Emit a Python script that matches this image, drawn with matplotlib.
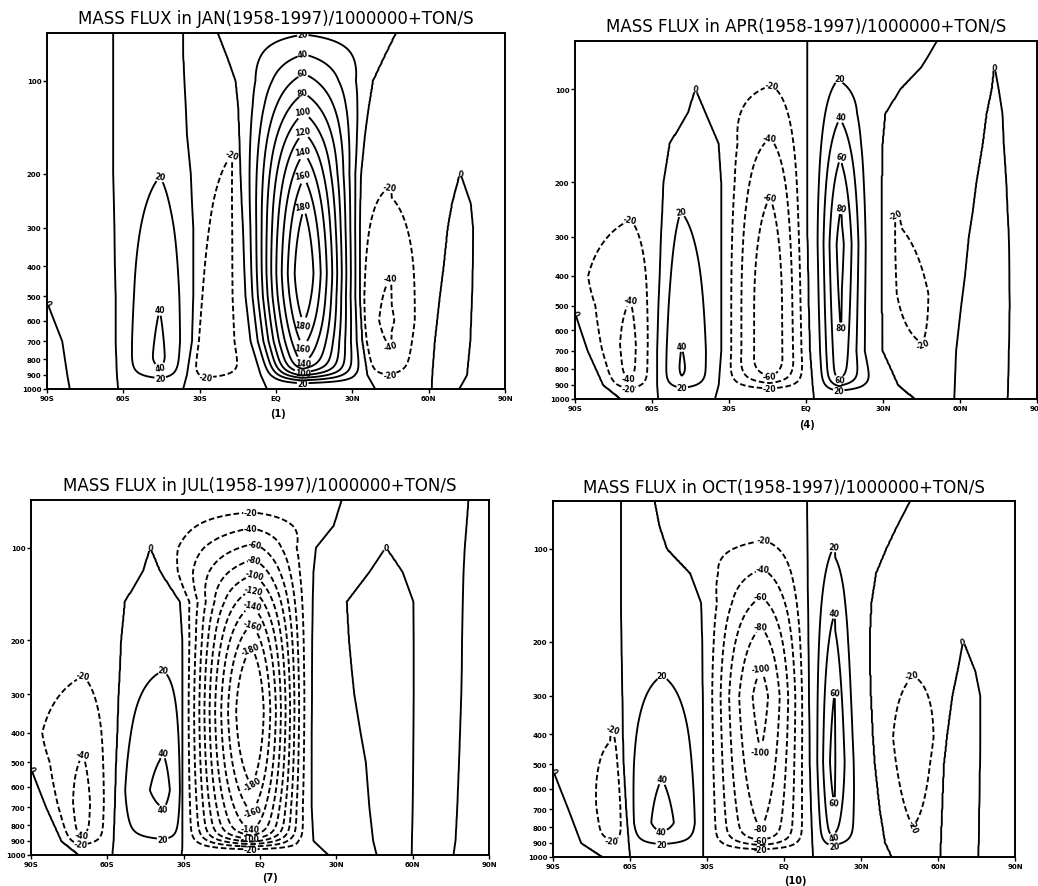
import numpy as np
import matplotlib
matplotlib.use("Agg")
import matplotlib.pyplot as plt
from matplotlib.ticker import NullLocator

plt.rcParams['font.family'] = ['DejaVu Sans']

# Pressure levels (hPa) at which the zero lines of the mass stream function are given
ZERO_LINE_P = [1000, 900, 700, 500, 400, 300, 250, 200, 150, 120, 100, 85, 70]

# Cell rows: amplitude, centre lat, plateau half-width, tilt (deg per log10 p),
# south shape exponent, north shape exponent,
# p where the cell fades at the top, top of plateau, bottom of plateau, p where it fades below
JAN_ZERO_LINES = [
    [-81, -82, -84, -91, -100, -100, -100, -100, -100, -100, -100, -100, -100],
    [-62, -62.5, -63, -63, -63.3, -63.5, -63.7, -64, -64, -64, -64, -64, -64],
    [-36.5, -35, -33, -32.5, -32.5, -32.5, -33, -33.5, -35, -35.5, -36, -36.3, -36.5],
    [-3.5, -6, -10, -12, -12.5, -13, -13.5, -14, -14.5, -15, -16, -19, -23],
    [39, 36, 34, 33, 33, 33, 33.2, 33.5, 35, 36.5, 38, 42, 47],
    [61.3, 61.5, 62.5, 64.5, 66, 67.6, 69.3, 72.4, 72.4, 72.4, 72.4, 72.4, 72.4],
    [72, 75, 76.3, 77, 77.3, 77.4, 76.5, 72.4, 72.4, 72.4, 72.4, 72.4, 72.4],
]
JAN_CELLS = [
    [5, -92, 2, 0, 1, 1, 300, 700, 1000, 1e4],
    [-12, -72, 2, 0, 1, 1, 40, 300, 1000, 1e4],
    [51, -46, 2, 0, 1, 1, 86, 650, 1000, 1e4],
    [-47, -27, 2, 11, 1, 1, 56, 700, 1000, 1e4],
    [225, 10.5, 2.5, 0, 1.2, 1, 61, 265, 600, 1833],
    [-51, 45.5, 2.5, 0, 0.45, 1.5, 119, 548, 631, 1585],
    [16, 69, 1, 0, 1, 1, 150, 500, 1000, 1e4],
    [-6, 92, 2, 0, 1, 1, 30, 300, 1000, 1e4],
]

APR_ZERO_LINES = [
    [-72, -79, -85, -91, -100, -100, -100, -100, -100, -100, -100, -100, -100],
    [-57.6, -58, -58, -57.5, -57, -56.5, -56, -55.5, -53, -46, -43, -43, -43],
    [-35.5, -34, -33, -33, -33, -33, -33, -33, -34, -39, -43, -43, -43],
    [3.1, 2.5, 1.5, 1, 0.8, 0.5, 0.4, 0.4, 0.4, 0.4, 0.4, 0.4, 0.4],
    [42.6, 36, 30, 29.7, 29.7, 29.7, 29.7, 29.7, 30, 31, 37, 45, 51],
    [57.8, 58, 58.5, 60.5, 62, 63.5, 65, 66.5, 69, 70.5, 72.5, 73.4, 73.4],
    [78.5, 78.7, 79, 79.3, 79.2, 79, 78.5, 78, 77, 76.5, 75, 73.4, 73.4],
]
APR_CELLS = [
    [5, -92, 2, 0, 1, 1, 300, 700, 1000, 1e4],
    [-53, -69, 1.5, 0, 1, 1, 155, 540, 1000, 1e4],
    [49, -48, 2, 0, 1, 1, 108, 730, 1000, 1e4],
    [-80, -14.5, 3, 0, 1, 1, 65, 286, 826, 1102],
    [104, 13.9, 2.6, 0, 1.6, 2.2, 68, 272, 447, 1e4],
    [-31, 50, 2, -23, 0.6, 1.2, 95, 398, 500, 1259],
    [14, 70, 1, 0, 1, 1, 80, 400, 1000, 1e4],
    [-5, 92, 2, 0, 1, 1, 30, 300, 1000, 1e4],
]

JUL_ZERO_LINES = [
    [-71, -78, -84, -91, -100, -100, -100, -100, -100, -100, -100, -100, -100],
    [-58, -57.5, -57, -56.5, -56, -55.5, -55, -54.5, -53, -46, -43, -43, -43],
    [-30.8, -30.6, -30.5, -30.5, -30.5, -30.5, -30.5, -30.6, -31.5, -39, -43, -43, -43],
    [27, 21, 20.3, 20.3, 20.3, 20.4, 20.4, 20.5, 20.7, 21, 22, 29, 32.2],
    [45.9, 44.5, 43, 41.6, 39.5, 37, 36, 34.9, 34, 43, 49.4, 49.4, 49.4],
    [59.6, 59.7, 60, 60.2, 60.3, 60.4, 60.4, 60.4, 60.3, 56, 49.4, 49.4, 49.4],
    [76, 76.8, 77.5, 78.2, 78.6, 79.1, 79.3, 79.4, 79.7, 80, 80.5, 81.2, 82],
]
JUL_CELLS = [
    [5, -92, 2, 0, 1, 1, 300, 700, 1000, 1e4],
    [-54, -70, 1.5, 0, 1, 1, 154, 546, 1000, 1e4],
    [50, -39, 2, 0, 0.6, 0.45, 144, 550, 652, 1327],
    [-218, -3.5, 5.5, 0, 1.1, 1.3, 68, 225, 553, 2183],
    [12, 30, 2, 0, 1, 1, 50, 300, 1000, 1e4],
    [-12, 52, 1, 0, 1, 1, 90, 400, 1000, 1e4],
    [8, 68, 2, 0, 1, 1, 60, 300, 1000, 1e4],
    [-6, 90, 2, 0, 1, 1, 30, 300, 1000, 1e4],
]

OCT_ZERO_LINES = [
    [-70.5, -79, -84, -91, -100, -100, -100, -100, -100, -100, -100, -100, -100],
    [-60, -60.5, -61.5, -62.5, -62.8, -63, -63.2, -63.3, -63.5, -63.5, -63.5, -63.5, -63.5],
    [-31.5, -31.5, -31.5, -31.6, -31.6, -31.7, -31.8, -31.9, -32.3, -36.5, -45.5, -48.3, -50.3],
    [11.3, 11, 10.5, 10, 9.9, 9.7, 9.6, 9.5, 9.3, 9.2, 9.1, 9.05, 9],
    [42.1, 39.5, 37.4, 35.5, 34.7, 34, 33.7, 33.5, 34.2, 36, 40, 44, 49.1],
    [60.8, 61, 61.5, 62.2, 63.5, 65.5, 67.5, 69.8, 69.8, 69.8, 69.8, 69.8, 69.8],
    [75.6, 75.8, 76, 76.3, 76.4, 76.4, 74.5, 69.8, 69.8, 69.8, 69.8, 69.8, 69.8],
]
OCT_CELLS = [
    [5, -92, 2, 0, 1, 1, 300, 700, 1000, 1e4],
    [-31, -67.5, 1, 0, 1, 0.5, 166, 562, 1000, 1e4],
    [51, -47.5, 2.5, 0, 0.6, 0.6, 128, 708, 794, 1259],
    [-119, -9.5, 4, 0, 1.1, 1, 75.5, 250, 436, 4365],
    [81, 20, 1.5, 0, 1.3, 2.5, 59, 359, 596, 1820],
    [-28, 50, 2, 0, 0.5, 0.35, 95, 355, 500, 3162],
    [14, 70, 1, 0, 1, 1, 150, 500, 1000, 1e4],
    [-6, 92, 2, 0, 1, 1, 30, 300, 1000, 1e4],
]

MONTHS = ["JAN", "APR", "JUL", "OCT"]
CAPTIONS = ["(1)", "(4)", "(7)", "(10)"]
TITLE_FMT = "MASS FLUX in {}(1958-1997)/1000000+TON/S"
LEVELS = np.arange(-180, 181, 20)
YTICKS = [100, 200, 300, 400, 500, 600, 700, 800, 900, 1000]
XTICKS = [-90, -60, -30, 0, 30, 60, 90]
XLABELS = ["90S", "60S", "30S", "EQ", "30N", "60N", "90N"]

# --- grid in latitude and log-pressure ---
P_TOP = 70.0
ZTOP = np.log10(1000.0 / P_TOP)
lat = np.linspace(-90, 90, 721)
zz = np.linspace(0, ZTOP, 321)
pres = 1000.0 / 10 ** zz
LAT = np.broadcast_to(lat[None, :], (zz.size, lat.size))
zl = np.log10(1000.0 / np.array(ZERO_LINE_P, float))


def smooth_clip(r, d=0.3):
    r = np.asarray(r, float)
    mid = r - (r - 1 + d) ** 2 / (4 * d)
    return np.where(r <= 1 - d, r, np.where(r >= 1 + d, 1.0, mid))


def zof(p):
    return np.log10(1000.0 / p)


def stream_function(zero_lines, cells):
    walls = [np.full(zz.shape, -100.0)]
    walls += [np.interp(zz, zl, np.array(b, float)) for b in zero_lines]
    walls += [np.full(zz.shape, 100.0)]
    surf = 0.01 + 0.99 * (1 - np.exp(-(zz / 0.045) ** 2))
    F = np.zeros(LAT.shape)
    for i, (amp, c0, pw, tilt, qs, qn, pt0, ptp, pbp, pb0) in enumerate(cells):
        bl = walls[i][:, None]
        br = walls[i + 1][:, None]
        width = br - bl
        cz = c0 + tilt * zz[:, None]
        lo = bl + 0.05 * width
        hi = br - 0.05 * width
        cl = np.clip(cz - pw, lo, hi)
        cr = np.maximum(np.clip(cz + pw, lo, hi), cl)
        with np.errstate(divide="ignore", invalid="ignore"):
            rl = (LAT - bl) / (cl - bl)
            rr = (br - LAT) / (br - cr)
        r = np.minimum(rl, rr)
        inside = (LAT > bl) & (LAT < br) & (width > 0.05)
        r = np.nan_to_num(np.where(inside, r, 0.0))
        q = np.where(LAT < cz, qs, qn)
        s = smooth_clip(np.clip(r, 0, None), 0.6) ** q
        zt0, ztp, zbp, zb0 = zof(pt0), zof(ptp), zof(pbp), zof(pb0)
        rt = (zt0 - zz) / (zt0 - ztp)
        rb = (zz - zb0) / (zbp - zb0)
        rz = np.minimum(rt, rb)
        eps = 0.02
        v = np.where(rz > eps, smooth_clip(rz, 0.4),
                     eps * np.exp(np.minimum(rz, eps) / eps - 1))
        F += amp * s * (v * surf)[:, None]
    return F


FIELDS = {
    "JAN": stream_function(JAN_ZERO_LINES, JAN_CELLS),
    "APR": stream_function(APR_ZERO_LINES, APR_CELLS),
    "JUL": stream_function(JUL_ZERO_LINES, JUL_CELLS),
    "OCT": stream_function(OCT_ZERO_LINES, OCT_CELLS),
}

W, H = 1038, 887
# axes boxes in pixels: left, top, right, bottom
BOXES = {
    "JAN": (47, 34, 505, 390),
    "APR": (575, 42, 1037, 400),
    "JUL": (31, 501, 489, 856),
    "OCT": (553, 502, 1015, 858),
}
TITLE_XY = {"JAN": (276, 19), "APR": (806, 27), "JUL": (260, 486), "OCT": (784, 488)}
CAPTION_XY = {"JAN": (278, 414), "APR": (807, 425), "JUL": (270, 878), "OCT": (795, 881)}

fig = plt.figure(figsize=(W / 100, H / 100), dpi=100)

dash = (0, (3.0, 1.5))
styles = [dash if lv < 0 else "solid" for lv in LEVELS]


def label_positions(cs, ax):
    tops, bottoms = [], []
    for i, lev in enumerate(cs.levels):
        for seg in cs.allsegs[i]:
            if len(seg) < 6:
                continue
            closed = np.hypot(*(seg[0] - seg[-1])) < 1e-6
            it = np.argmin(seg[:, 1])
            ib = np.argmax(seg[:, 1])
            ptop, pbot = seg[it, 1], seg[ib, 1]
            if closed:
                tops.append(tuple(seg[it]))
                if pbot < 985 and np.log10(pbot / ptop) > 0.12:
                    bottoms.append(tuple(seg[ib]))
            elif ptop > P_TOP * 1.08:
                tops.append(tuple(seg[it]))
    kept, kept_px = [], []
    for pt in tops + bottoms:
        px = ax.transData.transform(pt)
        if any(abs(px[0] - q[0]) < 15 and abs(px[1] - q[1]) < 8 for q in kept_px):
            continue
        kept.append(pt)
        kept_px.append(px)
    return kept


for m, cap in zip(MONTHS, CAPTIONS):
    l, t, r, b = BOXES[m]
    ax = fig.add_axes([l / W, 1 - b / H, (r - l) / W, (b - t) / H])
    cs = ax.contour(lat, pres, FIELDS[m], levels=LEVELS, colors="k",
                    linewidths=1.35, linestyles=styles)
    ax.set_yscale("log")
    ax.set_ylim(1000, P_TOP)
    ax.set_xlim(-90, 90)
    pts = label_positions(cs, ax)
    if pts:
        texts = cs.clabel(manual=pts, inline=True, inline_spacing=1,
                          fmt="%d", fontsize=5.5)
        for tx in texts:
            tx.set_fontweight("bold")
    ax.set_yticks(YTICKS, labels=[str(v) for v in YTICKS])
    ax.yaxis.set_minor_locator(NullLocator())
    ax.set_xticks(XTICKS, labels=XLABELS)
    ax.tick_params(direction="out", length=3, width=1, labelsize=5, pad=1)
    for tl in ax.get_xticklabels() + ax.get_yticklabels():
        tl.set_fontweight("bold")
    for sp in ax.spines.values():
        sp.set_linewidth(1.4)
    tx, ty = TITLE_XY[m]
    fig.text(tx / W, 1 - ty / H, TITLE_FMT.format(m), ha="center", va="center",
             fontsize=12)
    cx, cy = CAPTION_XY[m]
    fig.text(cx / W, 1 - cy / H, cap, ha="center", va="center", fontsize=7,
             fontweight="bold")

fig.savefig("out.png", dpi=100)
